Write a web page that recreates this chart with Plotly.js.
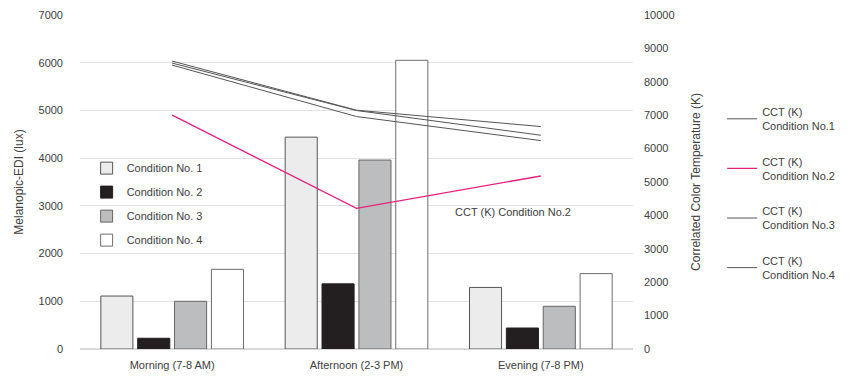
<!DOCTYPE html>
<html><head><meta charset="utf-8">
<script src="https://cdn.plot.ly/plotly-3.0.1.min.js"></script>
<style>html,body{margin:0;padding:0;background:#fff}#chart{width:868px;height:377px}</style>
</head><body><div id="chart"></div>
<script>
const categories = ['Morning (7-8 AM)', 'Afternoon (2-3 PM)', 'Evening (7-8 PM)'];
const barNames = ['Condition No. 1', 'Condition No. 2', 'Condition No. 3', 'Condition No. 4'];
const edi1 = [1110, 4440, 1290];
const edi2 = [225, 1365, 440];
const edi3 = [1000, 3960, 895];
const edi4 = [1670, 6050, 1580];
const lineNames = ['CCT (K)<br>Condition No.1', 'CCT (K)<br>Condition No.2', 'CCT (K)<br>Condition No.3', 'CCT (K)<br>Condition No.4'];
const cct1 = [8620, 7150, 6660];
const cct2 = [7000, 4210, 5180];
const cct3 = [8560, 7140, 6400];
const cct4 = [8500, 6960, 6240];

const font = {family: 'Liberation Sans, Arial, sans-serif', size: 11, color: '#404040'};
const barStyles = [
  {color: '#ececec', line: {color: '#555555', width: 1}},
  {color: '#231f20', line: {color: '#231f20', width: 1}},
  {color: '#bcbdbf', line: {color: '#666666', width: 1}},
  {color: '#ffffff', line: {color: '#6d6d6d', width: 1}}
];
const ediSeries = [edi1, edi2, edi3, edi4];
const cctSeries = [cct1, cct2, cct3, cct4];
const lineColors = ['#555555', '#e6207f', '#555555', '#555555'];

const traces = [];
ediSeries.forEach((v, i) => traces.push({
  type: 'bar', x: categories, y: v, name: barNames[i], marker: barStyles[i],
  legend: 'legend', legendgroup: 'b' + i, hoverinfo: 'y'
}));
cctSeries.forEach((v, i) => traces.push({
  type: 'scatter', mode: 'lines', x: categories, y: v, yaxis: 'y2', name: lineNames[i],
  line: {color: lineColors[i], width: i === 1 ? 1.3 : 1},
  legend: 'legend2', legendgroup: 'l' + i
}));

const layout = {
  width: 868, height: 377,
  margin: {l: 80, r: 235, t: 15, b: 28, autoexpand: false},
  paper_bgcolor: '#fff', plot_bgcolor: '#fff',
  font: font,
  barmode: 'group', bargap: 0.2, bargroupgap: 0.13,
  xaxis: {type: 'category', showgrid: false, showline: false, ticks: '', zeroline: false,
          automargin: false, ticklabelstandoff: 8, tickfont: {size: 11, color: '#404040'}},
  yaxis: {range: [0, 7000], dtick: 1000, showgrid: true, gridcolor: '#e3e3e3', gridwidth: 1,
          zeroline: true, zerolinecolor: '#d9d9d9', zerolinewidth: 2, showline: false,
          automargin: false, ticklabelstandoff: 16, tickfont: {size: 11, color: '#404040'},
          title: {text: 'Melanopic-EDI (lux)', font: {size: 12, color: '#404040'}, standoff: 12}},
  yaxis2: {overlaying: 'y', side: 'right', range: [0, 10000], dtick: 1000, tickformat: 'd', showgrid: false,
          zeroline: false, showline: false, ticklabelstandoff: 10, automargin: false,
          tickfont: {size: 11, color: '#404040'},
          title: {text: 'Correlated Color Temperature (K)', font: {size: 12, color: '#404040'}, standoff: 18}},
  legend: {x: 0.012, y: 0.585, xanchor: 'left', yanchor: 'top', bgcolor: 'rgba(0,0,0,0)',
           traceorder: 'grouped', tracegroupgap: 5, font: {size: 11, color: '#404040'},
           itemwidth: 30},
  legend2: {xref: 'container', yref: 'container', x: 0.832, y: 0.74, xanchor: 'left', yanchor: 'top',
            bgcolor: 'rgba(0,0,0,0)', traceorder: 'grouped', tracegroupgap: 18,
            font: {size: 11, color: '#404040'}},
  annotations: [{x: 1.85, y: 4090, xref: 'x', yref: 'y2', text: 'CCT (K) Condition No.2',
                 showarrow: false, font: {size: 11, color: '#404040'}, xanchor: 'center', yanchor: 'middle'}],
  showlegend: true
};
Plotly.newPlot('chart', traces, layout, {displayModeBar: false, staticPlot: true});
</script></body></html>
